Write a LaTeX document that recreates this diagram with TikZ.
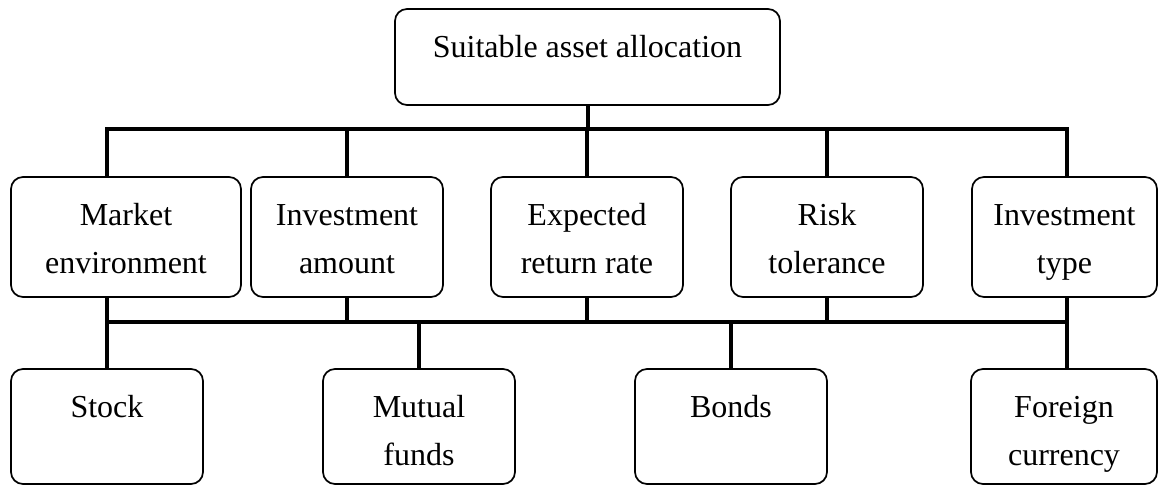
\documentclass[tikz,border=0pt]{standalone}
\usepackage{fontspec}
\setmainfont{Liberation Serif}
% box content: fixed-size parbox, text hung from the top edge
\newcommand\cellbox[3]{\parbox[c][#2][t]{#1}{\centering\rule{0pt}{24.5pt}#3\par}}
\begin{document}
\begin{tikzpicture}[x=0.5pt,y=-0.5pt,
  every node/.style={font=\fontsize{16}{24}\selectfont},
  box/.style={draw, line width=0.85pt, rounded corners=6pt, inner sep=0pt, outer sep=0pt},
  link/.style={line width=2pt}]
\useasboundingbox (0,0) rectangle (1158,486);

% goal
\node[box] (goal) at (587.5,57) {\cellbox{192.5pt}{48pt}{Suitable asset allocation}};

% factors
\node[box] (market) at (126,237)    {\cellbox{115pt}{60pt}{Market\\environment}};
\node[box] (amount) at (347,237)    {\cellbox{96pt}{60pt}{Investment\\amount}};
\node[box] (return) at (587,237)    {\cellbox{96pt}{60pt}{Expected\\return rate}};
\node[box] (risk)   at (827,237)    {\cellbox{96pt}{60pt}{Risk\\tolerance}};
\node[box] (itype)  at (1064.5,237) {\cellbox{92.5pt}{60pt}{Investment\\type}};

% instruments
\node[box] (stock)   at (107,426.5)  {\cellbox{96pt}{57.5pt}{Stock}};
\node[box] (mutual)  at (419,426.5)  {\cellbox{96pt}{57.5pt}{Mutual\\funds}};
\node[box] (bonds)   at (731,426.5)  {\cellbox{96pt}{57.5pt}{Bonds}};
\node[box] (foreign) at (1064,426.5) {\cellbox{93pt}{57.5pt}{Foreign\\currency}};

% bus bars
\coordinate (busA-w) at (107,129);
\coordinate (busA-e) at (1067,129);
\coordinate (busB-w) at (107,322);
\coordinate (busB-e) at (1067,322);

% upper bus
\draw[link] (market.north -| busA-w) -- (busA-w) -- (busA-e) -- (itype.north -| busA-e);
\draw[link] (goal.south) -- (goal.south |- busA-w);
\draw[link] (amount.north) -- (amount.north |- busA-w);
\draw[link] (return.north) -- (return.north |- busA-w);
\draw[link] (risk.north) -- (risk.north |- busA-w);

% lower bus
\draw[link] (market.south -| busB-w) -- (stock.north -| busB-w);
\draw[link] (itype.south -| busB-e) -- (foreign.north -| busB-e);
\draw[link] (busB-w) -- (busB-e);
\draw[link] (amount.south) -- (amount.south |- busB-w);
\draw[link] (return.south) -- (return.south |- busB-w);
\draw[link] (risk.south) -- (risk.south |- busB-w);
\draw[link] (mutual.north) -- (mutual.north |- busB-w);
\draw[link] (bonds.north) -- (bonds.north |- busB-w);
\end{tikzpicture}
\end{document}
